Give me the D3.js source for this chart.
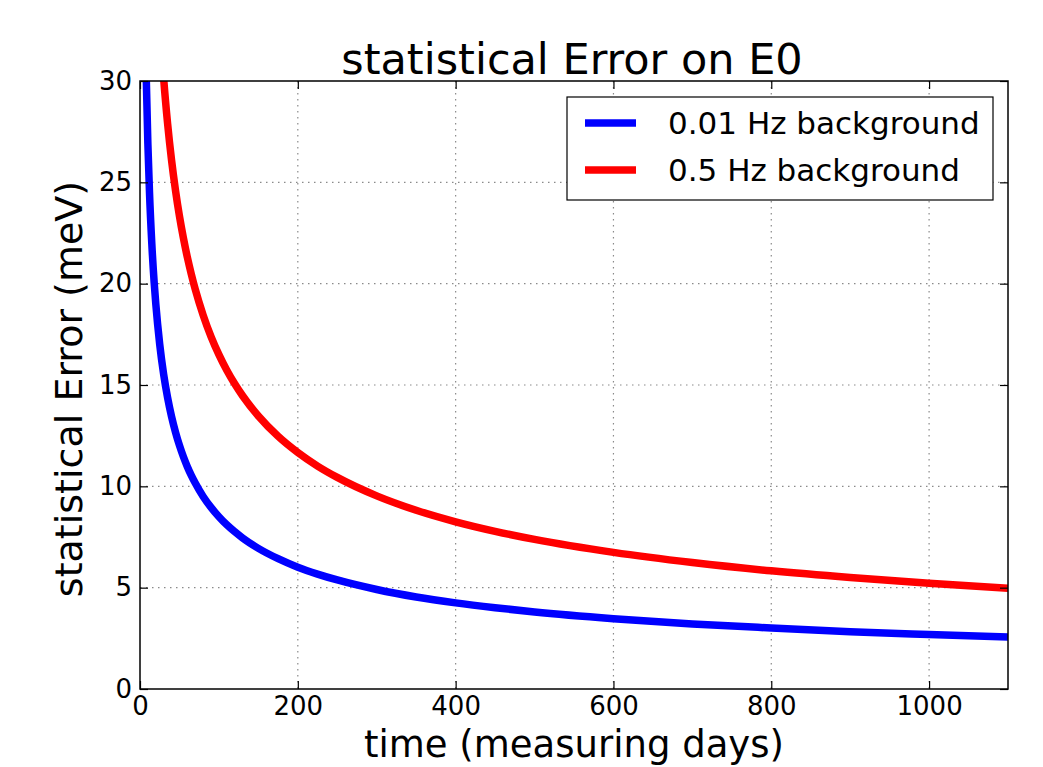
<!DOCTYPE html>
<html>
<head>
<meta charset="utf-8">
<script src="https://d3js.org/d3.v7.min.js"></script>
<style>
  body { margin: 0; background: #fff; }
  text { font-family: "DejaVu Sans", sans-serif; fill: #000; }
</style>
</head>
<body>
<div id="myChart"></div>
<script>
// values
let days = [5, 8, 10, 12, 15, 18, 20, 25, 30, 35, 40, 45, 50, 55, 60, 65, 70, 80, 90, 100,
            110, 120, 130, 150, 175, 200, 225, 250, 300, 350, 400, 450, 500, 600, 700, 800, 900, 1000, 1100];
let lowBg = [38.0, 30.05, 26.88, 24.54, 21.95, 20.03, 19.01, 17.0, 15.52, 14.37, 13.44, 12.67, 12.02, 11.46, 10.97, 10.54, 10.16, 9.50, 8.96, 8.5,
             8.10, 7.76, 7.45, 6.94, 6.43, 6.01, 5.67, 5.38, 4.91, 4.54, 4.25, 4.01, 3.80, 3.47, 3.21, 3.01, 2.83, 2.69, 2.56];
let highBg = [73.79, 58.34, 52.18, 47.63, 42.60, 38.89, 36.90, 33.00, 30.12, 27.89, 26.09, 24.60, 23.33, 22.25, 21.30, 20.47, 19.72, 18.45, 17.39, 16.50,
              15.73, 15.06, 14.47, 13.47, 12.47, 11.67, 11.00, 10.44, 9.53, 8.82, 8.25, 7.78, 7.38, 6.74, 6.24, 5.83, 5.50, 5.22, 4.97];
let seriesNames = ["0.01 Hz background", "0.5 Hz background"];
let seriesColors = ["#0000ff", "#ff0000"];
let xTicks = [0, 200, 400, 600, 800, 1000];
let yTicks = [0, 5, 10, 15, 20, 25, 30];

// set the dimensions and margins of the graph
let margin = {top: 81, right: 35, bottom: 78, left: 140},
    width = 1043 - margin.left - margin.right,
    height = 767 - margin.top - margin.bottom;

let svg = d3.select("#myChart")
  .append("svg")
    .attr("width", 1043)
    .attr("height", 767)
  .append("g")
    .attr("transform", "translate(" + margin.left + "," + margin.top + ")");

let x = d3.scaleLinear().domain([0, 1100]).range([0, width]);
let y = d3.scaleLinear().domain([0, 30]).range([height, 0]);

// grid (dotted)
let grid = svg.append("g");
grid.selectAll("line.gx")
  .data(xTicks.slice(1))
  .enter().append("line")
    .attr("x1", d => x(d)).attr("x2", d => x(d))
    .attr("y1", 0).attr("y2", height);
grid.selectAll("line.gy")
  .data(yTicks.slice(1, -1))
  .enter().append("line")
    .attr("x1", 0).attr("x2", width)
    .attr("y1", d => y(d)).attr("y2", d => y(d));
grid.selectAll("line")
  .attr("stroke", "#8a8a8a")
  .attr("stroke-width", 1.2)
  .attr("stroke-dasharray", "1.5,4.5");

// clip the curves to the axes box
svg.append("clipPath").attr("id", "clip")
  .append("rect").attr("width", width).attr("height", height);

let line = d3.line()
  .x((d, i) => x(days[i]))
  .y(d => y(d))
  .curve(d3.curveMonotoneX);

svg.append("g").attr("clip-path", "url(#clip)")
  .selectAll("path")
  .data([lowBg, highBg])
  .enter().append("path")
    .attr("d", d => line(d))
    .attr("fill", "none")
    .attr("stroke", (d, i) => seriesColors[i])
    .attr("stroke-width", 7.5)
    .attr("stroke-linejoin", "round");

// axes: ticks inside, on all four sides
let tickLen = 8;
function styleAxis(g) {
  g.select(".domain").remove();
  g.selectAll(".tick line").attr("stroke", "#000").attr("stroke-width", 1.2);
  g.selectAll(".tick text").style("font-size", "26px").style("font-family", "DejaVu Sans");
}

svg.append("g")
  .attr("transform", "translate(0," + height + ")")
  .call(d3.axisBottom(x).tickValues(xTicks).tickFormat(d3.format("d"))
    .tickSizeInner(-tickLen).tickSizeOuter(0).tickPadding(8))
  .call(styleAxis);

svg.append("g")
  .call(d3.axisTop(x).tickValues(xTicks).tickFormat("")
    .tickSizeInner(-tickLen).tickSizeOuter(0))
  .call(styleAxis);

svg.append("g")
  .call(d3.axisLeft(y).tickValues(yTicks).tickFormat(d3.format("d"))
    .tickSizeInner(-tickLen).tickSizeOuter(0).tickPadding(8))
  .call(styleAxis);

svg.append("g")
  .attr("transform", "translate(" + width + ",0)")
  .call(d3.axisRight(y).tickValues(yTicks).tickFormat("")
    .tickSizeInner(-tickLen).tickSizeOuter(0))
  .call(styleAxis);

// frame
svg.append("rect")
  .attr("width", width).attr("height", height)
  .attr("fill", "none")
  .attr("stroke", "#000")
  .attr("stroke-width", 1.5);

// title and labels
svg.append("text")
  .attr("x", width / 2 - 2).attr("y", -7)
  .attr("text-anchor", "middle")
  .style("font-size", "43px")
  .text("statistical Error on E0");

svg.append("text")
  .attr("x", width / 2).attr("y", height + 68)
  .attr("text-anchor", "middle")
  .style("font-size", "37px")
  .text("time (measuring days)");

svg.append("text")
  .attr("transform", "translate(-58," + (height / 2 + 4) + ") rotate(-90)")
  .attr("text-anchor", "middle")
  .style("font-size", "38px")
  .text("statistical Error (meV)");

// legend
let legend = svg.append("g")
  .attr("transform", "translate(" + (567 - margin.left) + "," + (97 - margin.top) + ")");

legend.append("rect")
  .attr("width", 426).attr("height", 103)
  .attr("fill", "#fff")
  .attr("stroke", "#000")
  .attr("stroke-width", 1.2);

let items = legend.selectAll("g.item")
  .data(seriesNames)
  .enter().append("g")
    .attr("transform", (d, i) => "translate(0," + (26 + i * 47) + ")");

items.append("line")
  .attr("x1", 18).attr("x2", 69)
  .attr("stroke", (d, i) => seriesColors[i])
  .attr("stroke-width", 7.5);

items.append("text")
  .attr("x", 101).attr("y", 11)
  .style("font-size", "31px")
  .text(d => d);
</script>
</body>
</html>
